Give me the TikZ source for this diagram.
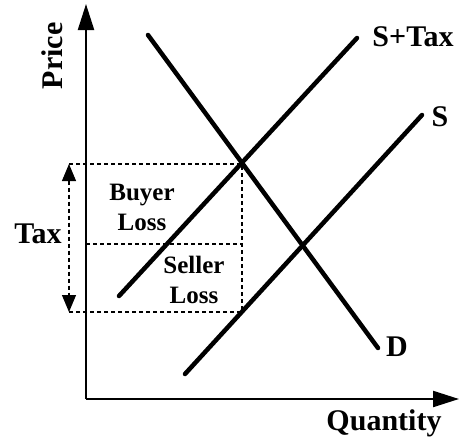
\documentclass[tikz,border=0pt]{standalone}
\usepackage{fontspec}
\setmainfont{Liberation Serif}
\usetikzlibrary{arrows.meta}

\begin{document}
\begin{tikzpicture}[x=1pt,y=-1pt,
  curve/.style={line width=4.5pt,line cap=round},
  axis/.style={line width=2.2pt,-{Triangle[length=26pt,width=16pt]}},
  guide/.style={line width=1.1pt,dash pattern=on 4pt off 3pt},
  big/.style={font=\fontsize{30}{30}\selectfont\bfseries},
  small/.style={font=\fontsize{25}{30}\selectfont\bfseries,align=center}]
\useasboundingbox (0,0) rectangle (459,448);
% axes
\coordinate (O) at (86,399);
\coordinate (YT) at (86,4);
\coordinate (XR) at (459,399);
\draw[axis] (O) -- (YT);
\draw[axis] (O) -- (XR);
\node[big,rotate=90] (P) at (52,56) {Price};
\node[big] (Q) at (384,423) {Quantity};

% curves
\coordinate (D1) at (148,35);
\coordinate (D2) at (378,348);
\coordinate (ST1) at (119,296);
\coordinate (ST2) at (357,38);
\coordinate (S1) at (185,374);
\coordinate (S2) at (422,115);
\draw[curve] (D1) -- (D2);
\draw[curve] (ST1) -- (ST2);
\draw[curve] (S1) -- (S2);
\node[big] (LD) at (397,347) {D};
\node[big] (LST) at (413,37) {S+Tax};
\node[big] (LS) at (440,117) {S};

% tax wedge
\coordinate (E) at (242,164);
\coordinate (TT) at (69,164);
\coordinate (TB) at (69,312);
\coordinate (EB) at (242,312);
\coordinate (ML) at (86,244);
\coordinate (MR) at (242,244);
\draw[guide] (TT) -- (E) -- (EB) -- (TB);
\draw[guide] (ML) -- (MR);
\draw[guide,{Triangle[length=17pt,width=14pt]}-{Triangle[length=17pt,width=14pt]}] (TT) -- (TB);
\node[big] (T) at (38,234) {Tax};
\node[small] (B) at (142,207) {Buyer\\Loss};
\node[small] (SL) at (194,280) {Seller\\Loss};
\end{tikzpicture}
\end{document}
